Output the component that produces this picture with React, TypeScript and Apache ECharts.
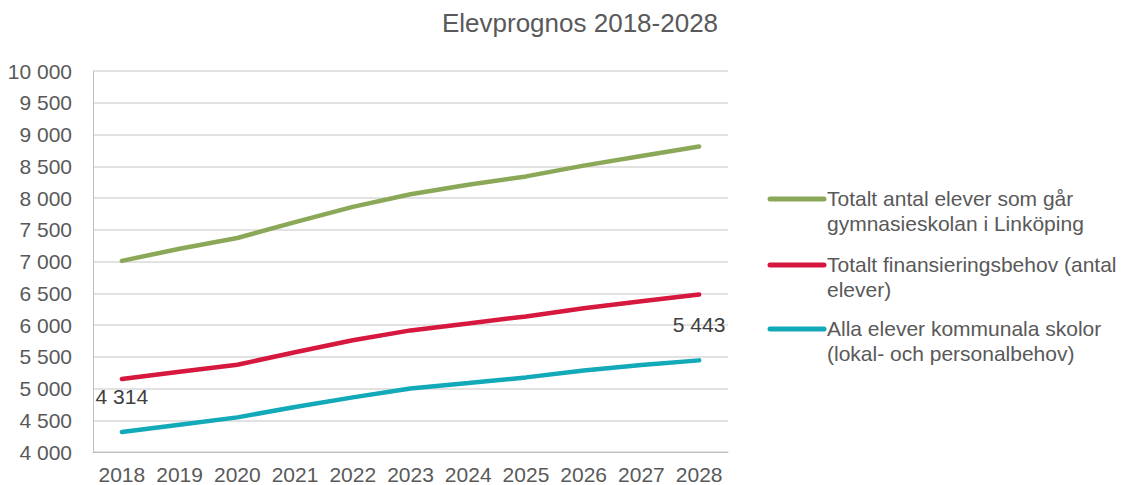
import React, { useEffect, useRef } from "react";
import * as echarts from "echarts";

const years = ["2018", "2019", "2020", "2021", "2022", "2023", "2024", "2025", "2026", "2027", "2028"];
const totalStudents = [7010, 7200, 7370, 7620, 7860, 8060, 8210, 8340, 8510, 8660, 8810];
const fundingNeed = [5150, 5265, 5375, 5570, 5760, 5915, 6025, 6135, 6265, 6375, 6480];
const municipalSchools = [4314, 4430, 4545, 4710, 4860, 5000, 5085, 5175, 5285, 5370, 5443];

const seriesNames = [
  "Totalt antal elever som går gymnasieskolan i Linköping",
  "Totalt finansieringsbehov (antal elever)",
  "Alla elever kommunala skolor (lokal- och personalbehov)",
];
const legendLines = [
  ["Totalt antal elever som går", "gymnasieskolan i Linköping"],
  ["Totalt finansieringsbehov (antal", "elever)"],
  ["Alla elever kommunala skolor", "(lokal- och personalbehov)"],
];
const colors = ["#8BA858", "#D6173E", "#12A9B8"];
const labelledIndexes = [0, 10];

const fmt = (v: number) => String(v).replace(/\B(?=(\d{3})+(?!\d))/g, " ");
const FONT = "Liberation Sans, Arial, sans-serif";
const TEXT = "#595959";

export default function App() {
  const ref = useRef<HTMLDivElement>(null);
  useEffect(() => {
    const chart = echarts.init(ref.current!, null, { renderer: "svg" });
    const dataSets = [totalStudents, fundingNeed, municipalSchools];
    const legendTops = [199, 265, 329];
    const graphic: any[] = [];
    legendLines.forEach((lines, i) => {
      graphic.push({
        type: "line",
        shape: { x1: 770, y1: legendTops[i], x2: 824, y2: legendTops[i] },
        style: { stroke: colors[i], lineWidth: 5, lineCap: "round" },
      });
      graphic.push({
        type: "text",
        x: 827,
        y: legendTops[i] - 13,
        style: {
          text: lines.join("\n"),
          font: `21px ${FONT}`,
          fill: TEXT,
          lineHeight: 25,
          verticalAlign: "top",
        },
      });
    });
    chart.setOption({
      animation: false,
      title: {
        text: "Elevprognos 2018-2028",
        left: 575,
        top: 5,
        textAlign: "center",
        textStyle: { fontFamily: FONT, fontSize: 26, fontWeight: "normal", color: TEXT },
      },
      grid: { left: 93, right: 398, top: 71, bottom: 33, containLabel: false },
      xAxis: {
        type: "category",
        data: years,
        boundaryGap: true,
        axisLine: { lineStyle: { color: "#BFBFBF", width: 1 } },
        axisTick: { show: false },
        axisLabel: { color: TEXT, fontFamily: FONT, fontSize: 21, margin: 12, interval: 0 },
      },
      yAxis: {
        type: "value",
        min: 4000,
        max: 10000,
        interval: 500,
        axisLine: { show: true, lineStyle: { color: "#BFBFBF", width: 1 } },
        axisTick: { show: false },
        splitLine: { lineStyle: { color: "#D9D9D9", width: 1.5 } },
        axisLabel: { color: TEXT, fontFamily: FONT, fontSize: 21, margin: 21, formatter: (v: number) => fmt(v) },
      },
      graphic,
      series: dataSets.map((d, i) => ({
        name: seriesNames[i],
        type: "line",
        data: d.map((v, j) =>
          i === 2 && labelledIndexes.includes(j)
            ? {
                value: v,
                label: {
                  show: true,
                  position: "top",
                  distance: 25,
                  formatter: (p: any) => fmt(p.value),
                  color: "#404040",
                  fontFamily: FONT,
                  fontSize: 21,
                },
              }
            : v
        ),
        showSymbol: true,
        symbol: "circle",
        symbolSize: 1,
        lineStyle: { color: colors[i], width: 4.5, cap: "round" },
        itemStyle: { color: colors[i] },
      })),
    });
    return () => chart.dispose();
  }, []);
  return (
    <div
      ref={ref}
      style={{ position: "absolute", left: 0, top: 0, width: 1126, height: 485 }}
    />
  );
}
